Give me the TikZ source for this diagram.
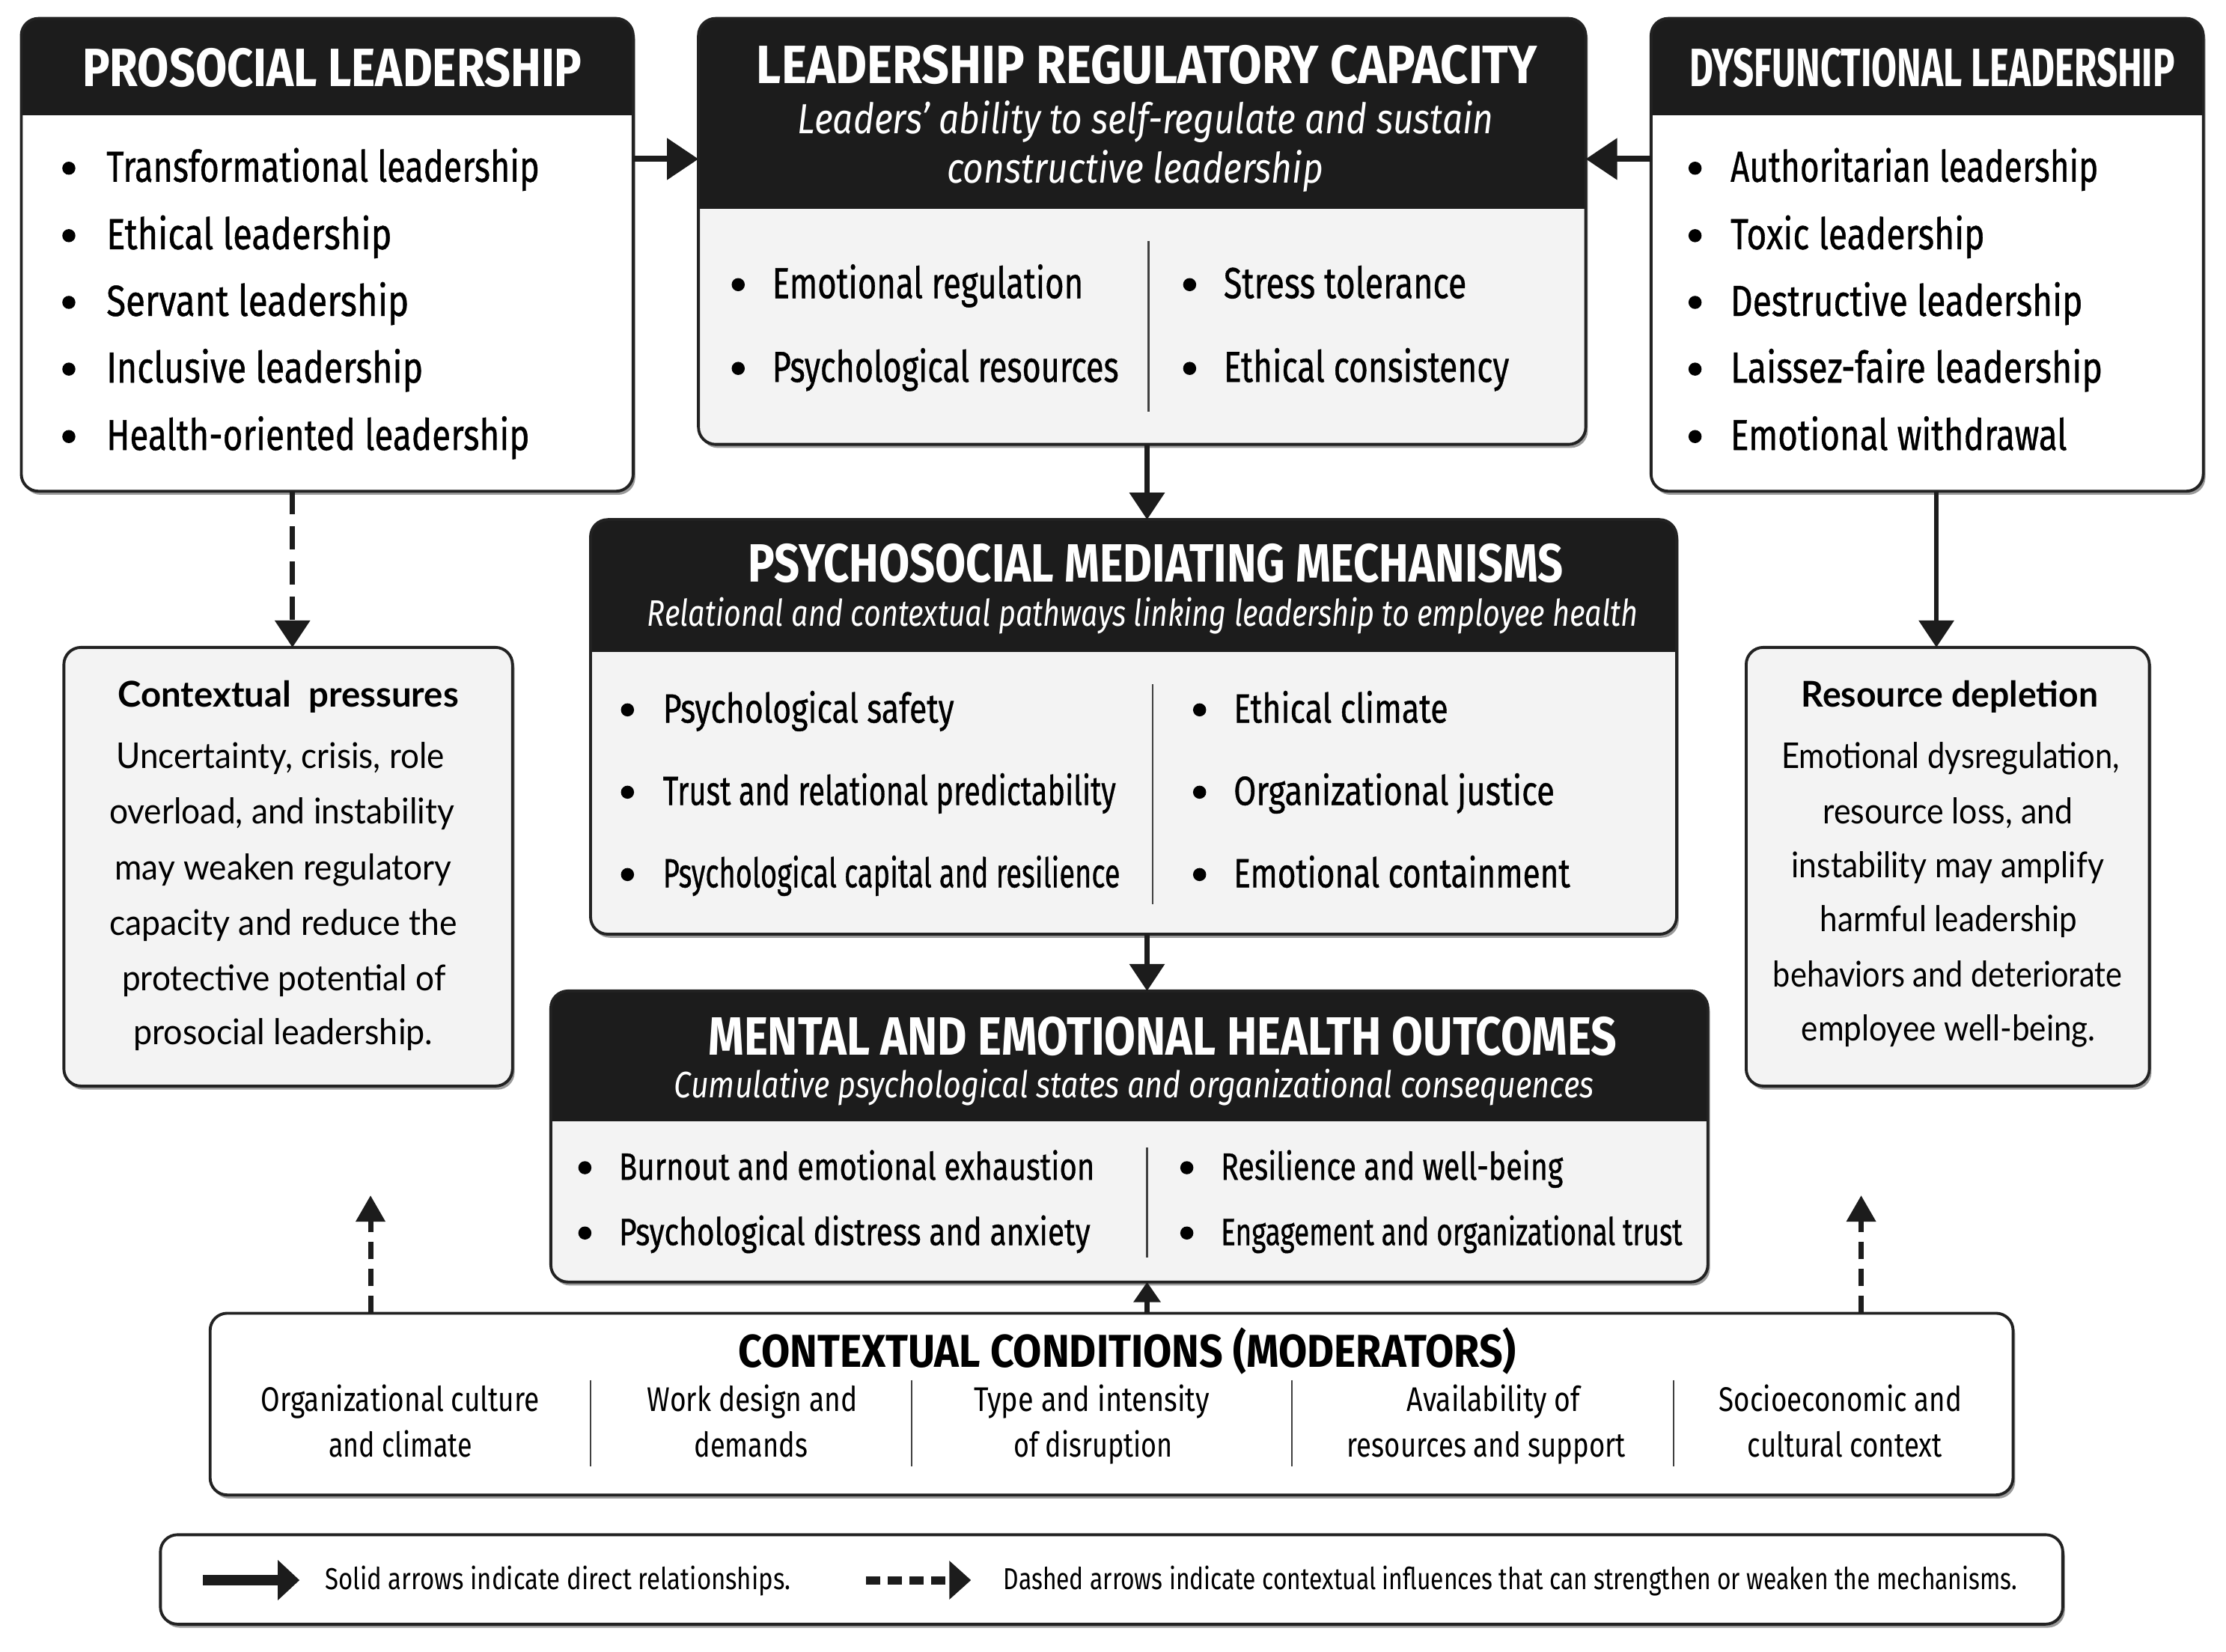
\documentclass[tikz,border=0pt]{standalone}
\usepackage{graphicx}
\usepackage{fontspec}
\setmainfont{Fira Sans}
\newfontfamily\medf{Fira Sans}[FakeBold=0.8]
\newfontfamily\latof{Lato}
\usetikzlibrary{arrows.meta,fit}
\newlength\du \setlength\du{0.18967mm}
\newcommand\fw[2]{\resizebox{#1\du}{\height}{#2}}
\definecolor{hdrc}{HTML}{1C1C1C}
\definecolor{bodyg}{HTML}{F3F3F3}
\definecolor{bordc}{HTML}{222222}
\definecolor{shadc}{HTML}{9A9A9A}
\newcommand\rc{6.5pt}
\def\curfont{\fontsize{15}{18}\selectfont}
\def\dotoff{9.5}
\newcommand\hdrbox[7]{%
  \fill[shadc,rounded corners=\rc] (#2+1.5,#3+2.5) rectangle (#4+1.5,#5+2.5);
  \node[fit={(#2,#3) (#4,#5)}, inner sep=0, outer sep=0, fill=#7, rounded corners=\rc] (#1) {};
  \begin{scope}
    \clip[rounded corners=\rc] (#2,#3) rectangle (#4,#5);
    \fill[hdrc] (#2,#3) rectangle (#4,#6);
  \end{scope}
  \draw[bord, rounded corners=\rc] (#2,#3) rectangle (#4,#5);
}
\newcommand\plainbox[6]{%
  \fill[shadc,rounded corners=\rc] (#2+1.5,#3+2.5) rectangle (#4+1.5,#5+2.5);
  \node[fit={(#2,#3) (#4,#5)}, inner sep=0, outer sep=0, fill=#6, draw=bordc, line width=1.1pt, rounded corners=\rc] (#1) {};
}
\newcommand\bul[6]{%
  \node[dot] (#1d) at (#2,#4-\dotoff) {};
  \node[txt] (#1) at (#3,#4) {\fw{#5}{#6}};
}
\tikzset{
  bord/.style={draw=bordc, line width=1.1pt},
  txt/.style={inner sep=0, outer sep=0, anchor=base west, font=\curfont},
  ctxt/.style={inner sep=0, outer sep=0, anchor=base, font=\curfont},
  wtxt/.style={ctxt, text=white},
  dot/.style={circle, fill=black, inner sep=0, minimum size=1.75mm},
  harr/.style={draw=hdrc, line width=0.8mm, -{Triangle[length=4.2mm,width=5.4mm]}},
  varr/.style={draw=hdrc, line width=0.65mm, -{Triangle[length=3.6mm,width=4.6mm]}},
  darr/.style={varr, dash pattern=on 3.1mm off 1.6mm},
  sarr/.style={draw=hdrc, line width=0.75mm, -{Triangle[length=2.7mm,width=3.5mm]}},
  uarr/.style={draw=hdrc, line width=0.7mm, dash pattern=on 2.3mm off 1.3mm, -{Triangle[length=3.5mm,width=3.8mm]}},
  divl/.style={draw=black!75, line width=0.7pt},
}
\begin{document}
\begin{tikzpicture}[x=0.18967mm, y=-0.18967mm]
\useasboundingbox (0,0) rectangle (1568,1163.1);
\fill[white] (0,0) rectangle (1568,1163.1);

% ---------- boxes ----------
\hdrbox{pros}{15}{13}{446}{346}{81}{white}
\hdrbox{lrc}{492}{13}{1117}{313}{147}{bodyg}
\hdrbox{dys}{1163}{13}{1552}{346}{81}{white}
\hdrbox{pmm}{416}{366}{1181}{658}{459}{bodyg}
\hdrbox{meho}{388}{698}{1203}{903}{790}{bodyg}
\plainbox{cp}{45}{456}{361}{765}{bodyg}
\plainbox{rd}{1230}{456}{1514}{765}{bodyg}
\plainbox{cc}{148}{925}{1418}{1053}{white}
\plainbox{leg}{113}{1081}{1453}{1144}{white}

% ---------- titles ----------
\def\curfont{\bfseries\fontsize{20.5}{24}\selectfont}
\node[wtxt] (prost) at (234,61) {\fw{352}{PROSOCIAL LEADERSHIP}};
\node[wtxt] (lrct) at (808,59) {\fw{550}{LEADERSHIP REGULATORY CAPACITY}};
\node[wtxt] (dyst) at (1361,61) {\fw{342}{DYSFUNCTIONAL LEADERSHIP}};
\node[wtxt] (pmmt) at (814,410) {\fw{574}{PSYCHOSOCIAL MEDIATING MECHANISMS}};
\node[wtxt] (mehot) at (819,743) {\fw{640}{MENTAL AND EMOTIONAL HEALTH OUTCOMES}};
\def\curfont{\itshape\fontsize{16}{18}\selectfont}
\node[wtxt] (lrcs1) at (807,94) {\fw{490}{Leaders’ ability to self-regulate and sustain}};
\node[wtxt] (lrcs2) at (799.5,129) {\fw{265}{constructive leadership}};
\def\curfont{\itshape\fontsize{14}{16}\selectfont}
\node[wtxt] (pmms) at (805,441) {\fw{698}{Relational and contextual pathways linking leadership to employee health}};
\node[wtxt] (mehos) at (799,773) {\fw{648}{Cumulative psychological states and organizational consequences}};
\def\curfont{\bfseries\fontsize{17.5}{20}\selectfont}
\node[ctxt] (cct) at (794,963) {\fw{548}{CONTEXTUAL CONDITIONS (MODERATORS)}};

% ---------- bullets ----------
\def\curfont{\medf\fontsize{16.5}{19}\selectfont}
\def\dotoff{9.5}
\bul{p1}{48.5}{75}{128}{305}{Transformational leadership}
\bul{p2}{48.5}{75}{175.5}{201}{Ethical leadership}
\bul{p3}{48.5}{75}{222.5}{213}{Servant leadership}
\bul{p4}{48.5}{75}{269.5}{223}{Inclusive leadership}
\bul{p5}{48.5}{75}{317}{298}{Health-oriented leadership}
\bul{d1}{1194}{1219}{128}{259}{Authoritarian leadership}
\bul{d2}{1194}{1219}{175.5}{179}{Toxic leadership}
\bul{d3}{1194}{1219}{222.5}{248}{Destructive leadership}
\bul{d4}{1194}{1219}{269.5}{262}{Laissez-faire leadership}
\bul{d5}{1194}{1219}{317}{237}{Emotional withdrawal}
\bul{l1}{520}{544}{210}{219}{Emotional regulation}
\bul{l2}{520}{544}{269}{244}{Psychological resources}
\bul{l3}{838}{862}{210}{171}{Stress tolerance}
\bul{l4}{838}{862}{269}{201}{Ethical consistency}
\def\curfont{\medf\fontsize{15.5}{18}\selectfont}
\def\dotoff{9}
\bul{m1}{442}{467}{509}{205}{Psychological safety}
\bul{m2}{442}{467}{567}{319}{Trust and relational predictability}
\bul{m3}{442}{467}{625}{322}{Psychological capital and resilience}
\bul{m4}{845}{869}{509}{151}{Ethical climate}
\bul{m5}{845}{869}{567}{226}{Organizational justice}
\bul{m6}{845}{869}{625}{237}{Emotional containment}
\def\curfont{\medf\fontsize{14.5}{17}\selectfont}
\def\dotoff{8.5}
\bul{o1}{412}{436}{831}{335}{Burnout and emotional exhaustion}
\bul{o2}{412}{436}{877}{332}{Psychological distress and anxiety}
\bul{o3}{836}{860}{831}{241}{Resilience and well-being}
\bul{o4}{836}{860}{877}{325}{Engagement and organizational trust}

% dividers
\draw[divl] (809,170) -- (809,290);
\draw[divl] (812,482) -- (812,637);
\draw[divl] (808,808) -- (808,886);

% ---------- side boxes ----------
\def\curfont{\latof\bfseries\fontsize{13.5}{16}\selectfont}
\node[ctxt] (cpt) at (203,498) {\fw{240}{Contextual\ \ pressures}};
\node[ctxt] (rdt) at (1373.5,498) {\fw{209}{Resource depletion}};
\def\curfont{\latof\fontsize{13.5}{16}\selectfont}
\node[ctxt] (cp1) at (197.5,541) {\fw{231}{Uncertainty, crisis, role}};
\node[ctxt] (cp2) at (198.5,580) {\fw{243}{overload, and instability}};
\node[ctxt] (cp3) at (199.5,620) {\fw{237}{may weaken regulatory}};
\node[ctxt] (cp4) at (199.5,659) {\fw{245}{capacity and reduce the}};
\node[ctxt] (cp5) at (200,698) {\fw{228}{protective potential of}};
\node[ctxt] (cp6) at (199.5,736) {\fw{211}{prosocial leadership.}};
\node[ctxt] (rd1) at (1374,541) {\fw{238}{Emotional dysregulation,}};
\node[ctxt] (rd2) at (1372,580) {\fw{176}{resource loss, and}};
\node[ctxt] (rd3) at (1372,618) {\fw{220}{instability may amplify}};
\node[ctxt] (rd4) at (1372.5,656) {\fw{181}{harmful leadership}};
\node[ctxt] (rd5) at (1372,695) {\fw{246}{behaviors and deteriorate}};
\node[ctxt] (rd6) at (1372.5,733) {\fw{207}{employee well-being.}};

% ---------- contextual conditions ----------
\def\curfont{\fontsize{13}{15}\selectfont}
\node[ctxt] (c1a) at (282,994) {\fw{196}{Organizational culture}};
\node[ctxt] (c1b) at (282,1026) {\fw{101}{and climate}};
\node[ctxt] (c2a) at (530,994) {\fw{148}{Work design and}};
\node[ctxt] (c2b) at (529,1026) {\fw{80}{demands}};
\node[ctxt] (c3a) at (769,994) {\fw{166}{Type and intensity}};
\node[ctxt] (c3b) at (770,1026) {\fw{112}{of disruption}};
\node[ctxt] (c4a) at (1052,994) {\fw{122}{Availability of}};
\node[ctxt] (c4b) at (1047,1026) {\fw{196}{resources and support}};
\node[ctxt] (c5a) at (1296.5,994) {\fw{171}{Socioeconomic and}};
\node[ctxt] (c5b) at (1299.5,1026) {\fw{137}{cultural context}};
\draw[divl, line width=0.5pt] (416,972) -- (416,1033);
\draw[divl, line width=0.5pt] (642,972) -- (642,1033);
\draw[divl, line width=0.5pt] (910,972) -- (910,1033);
\draw[divl, line width=0.5pt] (1179,972) -- (1179,1033);

% ---------- legend ----------
\def\curfont{\fontsize{11.5}{13}\selectfont}
\node[txt] (lg1) at (229,1119.5) {\fw{328}{Solid arrows indicate direct relationships.}};
\node[txt] (lg2) at (707,1119.5) {\fw{714}{Dashed arrows indicate contextual influences that can strengthen or weaken the mechanisms.}};
\coordinate (ls1) at (143,1113);
\coordinate (ls2) at (211,1113);
\coordinate (ld1) at (610,1113);
\coordinate (ld2) at (684,1113);
\draw[draw=hdrc, line width=1.45mm, -{Triangle[length=2.9mm,width=5.2mm]}] (ls1) -- (ls2);
\draw[draw=hdrc, line width=1.1mm, dash pattern=on 1.9mm off 1.0mm, -{Triangle[length=2.9mm,width=5.0mm]}] (ld1) -- (ld2);

% ---------- connectors ----------
\coordinate (ya) at (0,112);
\coordinate (xm) at (808,0);
\coordinate (xl) at (206,0);
\coordinate (xr) at (1364,0);
\coordinate (t1) at (261,842);
\coordinate (t2) at (1311,842);
\draw[harr] (pros.east |- ya) -- (lrc.west |- ya);
\draw[harr] (dys.west |- ya) -- (lrc.east |- ya);
\draw[varr] (lrc.south -| xm) -- (pmm.north -| xm);
\draw[varr] (pmm.south -| xm) -- (meho.north -| xm);
\draw[sarr] (cc.north -| xm) -- (meho.south -| xm);
\draw[darr] (pros.south -| xl) -- (cp.north -| xl);
\draw[varr] (dys.south -| xr) -- (rd.north -| xr);
\draw[uarr] (cc.north -| t1) -- (t1);
\draw[uarr] (cc.north -| t2) -- (t2);
\end{tikzpicture}
\end{document}
